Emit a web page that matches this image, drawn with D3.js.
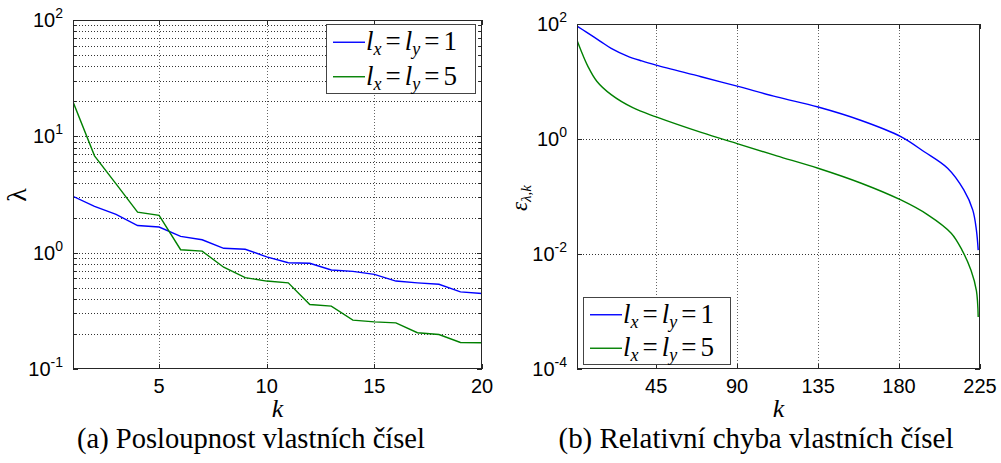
<!DOCTYPE html>
<html><head><meta charset="utf-8">
<script src="https://cdn.jsdelivr.net/npm/d3@7"></script>
<style>body{margin:0;background:#fff} svg{display:block}</style>
</head><body><svg id="c" width="1001" height="463"></svg>
<script>
// ---------- data ----------
const kA = [1,2,3,4,5,6,7,8,9,10,11,12,13,14,15,16,17,18,19,20];
const lambda1 = [3.05,2.5,2.13,1.71,1.66,1.38,1.29,1.09,1.07,0.92,0.82,0.81,0.71,0.69,0.65,0.57,0.55,0.535,0.46,0.445];
const lambda5 = [19.8,6.8,3.9,2.23,2.09,1.06,1.03,0.75,0.61,0.57,0.55,0.358,0.347,0.263,0.254,0.249,0.205,0.198,0.169,0.168];
const kErr1 = [1,6,14,20,29,37,45,70,90,112,135,159,181,194,207,216,221,223,224];
const err1  = [92,73,50,37.7,27.7,22.8,19.3,12.1,8.3,5.4,3.6,2.1,1.1,0.6,0.31,0.13,0.058,0.026,0.0117];
const kErr5 = [1,3,7,12,20,32,45,70,90,112,135,159,181,196,209,215,220,223,224];
const err5  = [52,36,18.5,10.1,5.9,3.5,2.42,1.30,0.83,0.51,0.31,0.17,0.087,0.048,0.023,0.0117,0.0052,0.0023,0.0008];
const xTicksA = [5,10,15,20];
const yTicksA = [0.1,1,10,100];
const yExpA = ["-1","0","1","2"];
const xTicksB = [45,90,135,180,225];
const yTicksB = [1e-4,1e-2,1,100];
const yExpB = ["-4","-2","0","2"];
const legendValues = ["1","5"];
const seriesColors = ["#0000ff","#008000"];
const captions = ["(a) Posloupnost vlastních čísel","(b) Relativní chyba vlastních čísel"];

// ---------- drawing ----------
const svg = d3.select("#c");
const sans = "'Liberation Sans', Arial, sans-serif";
const serif = "'Liberation Serif', 'Times New Roman', serif";
const axisCol = "#262626";

function panel(o){
  const {x0,x1,y0,y1,xDom,yDom,xTicks,yTicks,yExp,minor,gridY,series,legend} = o;
  const x = d3.scaleLinear().domain(xDom).range([x0,x1]);
  const y = d3.scaleLog().domain(yDom).range([y1,y0]);
  const g = svg.append("g");
  const clipId = "clip"+Math.round(x0);
  svg.append("clipPath").attr("id",clipId).append("rect")
    .attr("x",x0).attr("y",y0).attr("width",x1-x0).attr("height",y1-y0);
  // grid
  const gy = gridY.filter(v=>y(v)>y0+0.5 && y(v)<y1-0.5);
  g.selectAll(".gy").data(gy).join("line")
    .attr("x1",x0).attr("x2",x1).attr("y1",d=>Math.round(y(d))+0.5).attr("y2",d=>Math.round(y(d))+0.5)
    .attr("stroke","#333").attr("stroke-width",1).attr("stroke-dasharray","1,2");
  const gx = xTicks.filter(v=>x(v)>x0+0.5 && x(v)<x1-0.5);
  g.selectAll(".gx").data(gx).join("line")
    .attr("y1",y0).attr("y2",y1).attr("x1",d=>Math.round(x(d))+0.5).attr("x2",d=>Math.round(x(d))+0.5)
    .attr("stroke","#666").attr("stroke-width",1).attr("stroke-dasharray","1,2");
  // ticks (inward, all sides)
  const tk = g.append("g").attr("stroke",axisCol).attr("stroke-width",1);
  xTicks.forEach(v=>{const px=Math.round(x(v))+0.5;
    tk.append("line").attr("x1",px).attr("x2",px).attr("y1",y1).attr("y2",y1-5);
    tk.append("line").attr("x1",px).attr("x2",px).attr("y1",y0).attr("y2",y0+5);});
  yTicks.forEach(v=>{const py=Math.round(y(v))+0.5;
    tk.append("line").attr("x1",x0).attr("x2",x0+5).attr("y1",py).attr("y2",py);
    tk.append("line").attr("x1",x1).attr("x2",x1-5).attr("y1",py).attr("y2",py);});
  minor.forEach(v=>{const py=Math.round(y(v))+0.5;
    tk.append("line").attr("x1",x0).attr("x2",x0+3).attr("y1",py).attr("y2",py);
    tk.append("line").attr("x1",x1).attr("x2",x1-3).attr("y1",py).attr("y2",py);});
  // series
  const line = d3.line().x(d=>x(d[0])).y(d=>y(d[1])).curve(o.curve||d3.curveLinear);
  series.forEach((s,i)=>{
    g.append("path").attr("clip-path",`url(#${clipId})`)
      .datum(s.k.map((k,j)=>[k,s.v[j]]))
      .attr("d",line).attr("fill","none").attr("stroke",seriesColors[i]).attr("stroke-width",1.4);
  });
  // box
  g.append("rect").attr("x",x0+0.5).attr("y",y0+0.5).attr("width",x1-x0-1).attr("height",y1-y0-1)
    .attr("fill","none").attr("stroke",axisCol).attr("stroke-width",1);
  // tick labels
  xTicks.forEach(v=>{
    g.append("text").attr("x",x(v)).attr("y",y1+24).attr("text-anchor","middle")
      .attr("font-family",sans).attr("font-size",20).attr("fill","#000").text(v);
  });
  yTicks.forEach((v,i)=>{
    const t = g.append("text").attr("x",x0-10).attr("y",y(v)+7).attr("text-anchor","end")
      .attr("font-family",sans).attr("font-size",20).attr("fill","#000");
    t.append("tspan").text("10");
    t.append("tspan").attr("dy",-9).attr("font-size",14).text(yExp[i]);
  });
  // x label
  g.append("text").attr("x",(x0+x1)/2).attr("y",417).attr("text-anchor","middle")
    .attr("font-family",serif).attr("font-style","italic").attr("font-size",26).text("k");
  // legend
  const L = legend;
  g.append("rect").attr("x",L.x+0.5).attr("y",L.y+0.5).attr("width",L.w).attr("height",L.h)
    .attr("fill","#fff").attr("stroke","#444").attr("stroke-width",1);
  legendValues.forEach((val,i)=>{
    const cy = L.y + L.h*(i*2+1)/4 + 1;
    g.append("line").attr("x1",L.x+7).attr("x2",L.x+39).attr("y1",cy).attr("y2",cy)
      .attr("stroke",seriesColors[i]).attr("stroke-width",1.4);
    const t = g.append("text").attr("x",L.x+40).attr("y",cy+8).attr("font-family",serif).attr("font-size",27);
    t.append("tspan").attr("font-style","italic").text("l");
    t.append("tspan").attr("font-style","italic").attr("font-size",18).attr("dy",5).text("x");
    t.append("tspan").attr("dy",-5).attr("dx",4).text("=");
    t.append("tspan").attr("dx",4).attr("font-style","italic").text("l");
    t.append("tspan").attr("font-style","italic").attr("font-size",18).attr("dy",5).text("y");
    t.append("tspan").attr("dy",-5).attr("dx",4).text("=");
    t.append("tspan").attr("dx",4).text(val);
  });
  return {x,y};
}

const minorA = [];
[0.1,1,10].forEach(d=>{[2,3,4,5,6,7,8,9].forEach(m=>minorA.push(d*m));});

panel({x0:73,x1:482,y0:20,y1:369,xDom:[1,20],yDom:[0.1,100],
  xTicks:xTicksA,yTicks:yTicksA,yExp:yExpA,minor:minorA,gridY:yTicksA.concat(minorA),
  series:[{k:kA,v:lambda1},{k:kA,v:lambda5}],
  legend:{x:326,y:24,w:149,h:69}});

panel({x0:577,x1:980,y0:24,y1:369,xDom:[1,225],yDom:[1e-4,100],
  xTicks:xTicksB,yTicks:yTicksB,yExp:yExpB,minor:[],gridY:yTicksB,curve:d3.curveCatmullRom.alpha(0.5),
  series:[{k:kErr1,v:err1},{k:kErr5,v:err5}],
  legend:{x:583,y:297,w:147,h:67}});

// y labels
svg.append("text").attr("transform","translate(26,195) rotate(-90)").attr("text-anchor","middle")
  .attr("font-family",serif).attr("font-size",28).text("λ");
const ey = svg.append("text").attr("transform","translate(527,198) rotate(-90)").attr("text-anchor","middle")
  .attr("font-family",serif).attr("font-size",23);
ey.append("tspan").attr("font-style","italic").text("ε");
ey.append("tspan").attr("font-style","italic").attr("font-size",15).attr("dy",4).text("λ,k");

// captions
[[251,348],[756,395]].forEach(([cx,w],i)=>{
  const t = svg.append("text").attr("x",cx).attr("y",448).attr("text-anchor","middle")
    .attr("font-family",serif).attr("font-size",24).text(captions[i]);
  const m = t.node().getComputedTextLength();
  t.attr("font-size",24*w/m);
});
</script></body></html>
